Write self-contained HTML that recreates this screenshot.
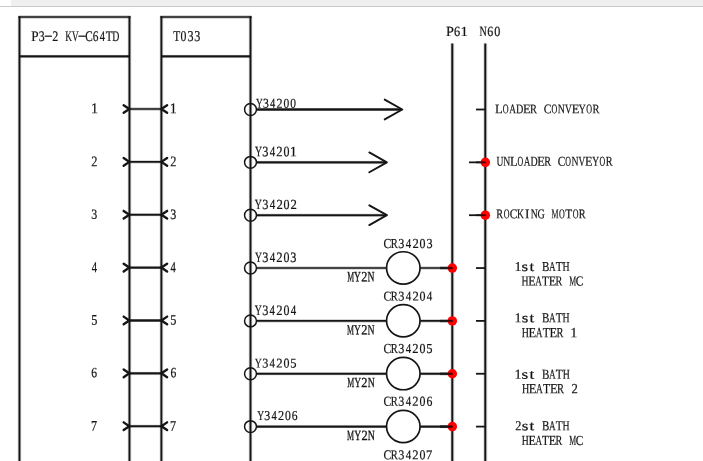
<!DOCTYPE html>
<html><head><meta charset="utf-8"><style>
html,body{margin:0;padding:0;background:#fff;width:703px;height:461px;overflow:hidden;position:relative}
#bar{position:absolute;left:11px;top:0;width:692px;height:6px;background:#efefef}
#bl{position:absolute;left:0;top:6px;width:703px;height:1px;background:#cacaca}
svg{display:block;position:absolute;left:0;top:0;will-change:transform;}
</style></head><body>
<div id="bar"></div><div id="bl"></div>
<svg width="703" height="461" viewBox="0 0 703 461">

<line x1="19.47" y1="16.25" x2="19.47" y2="470" stroke="#151515" stroke-width="4.0" stroke-opacity="0.1"/>
<line x1="129.47" y1="16.25" x2="129.47" y2="470" stroke="#151515" stroke-width="4.0" stroke-opacity="0.1"/>
<line x1="19.47" y1="16.25" x2="19.47" y2="470" stroke="#151515" stroke-width="2.0"/>
<line x1="129.47" y1="16.25" x2="129.47" y2="470" stroke="#151515" stroke-width="2.0"/>
<line x1="161.4" y1="16.25" x2="161.4" y2="470" stroke="#151515" stroke-width="4.0" stroke-opacity="0.1"/>
<line x1="250.5" y1="16.25" x2="250.5" y2="470" stroke="#151515" stroke-width="4.0" stroke-opacity="0.1"/>
<line x1="161.4" y1="16.25" x2="161.4" y2="470" stroke="#151515" stroke-width="2.0"/>
<line x1="250.5" y1="16.25" x2="250.5" y2="470" stroke="#151515" stroke-width="2.0"/>
<line x1="452.3" y1="43.6" x2="452.3" y2="470" stroke="#151515" stroke-width="4.0" stroke-opacity="0.15"/>
<line x1="485.3" y1="43.6" x2="485.3" y2="470" stroke="#151515" stroke-width="4.0" stroke-opacity="0.15"/>
<line x1="452.3" y1="43.6" x2="452.3" y2="470" stroke="#151515" stroke-width="2.0"/>
<line x1="485.3" y1="43.6" x2="485.3" y2="470" stroke="#151515" stroke-width="2.0"/>

<g>
<line x1="18.47" y1="17.00" x2="130.47" y2="17.00" stroke="#151515" stroke-width="3.6" stroke-opacity="0.220"/>
<line x1="18.47" y1="17.00" x2="130.47" y2="17.00" stroke="#151515" stroke-width="1.45"/>
<line x1="19.47" y1="56.40" x2="129.47" y2="56.40" stroke="#151515" stroke-width="3.6" stroke-opacity="0.044"/>
<line x1="19.47" y1="56.40" x2="129.47" y2="56.40" stroke="#151515" stroke-width="2.289999999999997"/>
<line x1="160.40" y1="17.00" x2="251.50" y2="17.00" stroke="#151515" stroke-width="3.6" stroke-opacity="0.220"/>
<line x1="160.40" y1="17.00" x2="251.50" y2="17.00" stroke="#151515" stroke-width="1.45"/>
<line x1="161.40" y1="56.40" x2="250.50" y2="56.40" stroke="#151515" stroke-width="3.6" stroke-opacity="0.044"/>
<line x1="161.40" y1="56.40" x2="250.50" y2="56.40" stroke="#151515" stroke-width="2.289999999999997"/>
<line x1="129.47" y1="109.00" x2="161.40" y2="109.00" stroke="#151515" stroke-width="3.6" stroke-opacity="0.220"/>
<line x1="129.47" y1="109.00" x2="161.40" y2="109.00" stroke="#151515" stroke-width="1.45"/>
<path d="M123.67 105.15 L129.27 109.00 L123.67 112.85" fill="none" stroke="#151515" stroke-width="2.4" stroke-linecap="round" stroke-linejoin="round"/>
<path d="M167.10 105.15 L161.40 109.00 L167.10 112.85" fill="none" stroke="#151515" stroke-width="2.4" stroke-linecap="round" stroke-linejoin="round"/>
<circle cx="250.5" cy="109.50" r="5.95" fill="none" stroke="#151515" stroke-width="1.5"/>
<line x1="129.47" y1="161.87" x2="161.40" y2="161.87" stroke="#151515" stroke-width="3.6" stroke-opacity="0.163"/>
<line x1="129.47" y1="161.87" x2="161.40" y2="161.87" stroke="#151515" stroke-width="1.7229999999999905"/>
<path d="M123.67 158.02 L129.27 161.87 L123.67 165.72" fill="none" stroke="#151515" stroke-width="2.4" stroke-linecap="round" stroke-linejoin="round"/>
<path d="M167.10 158.02 L161.40 161.87 L167.10 165.72" fill="none" stroke="#151515" stroke-width="2.4" stroke-linecap="round" stroke-linejoin="round"/>
<circle cx="250.5" cy="162.35" r="5.95" fill="none" stroke="#151515" stroke-width="1.5"/>
<line x1="129.47" y1="214.74" x2="161.40" y2="214.74" stroke="#151515" stroke-width="3.6" stroke-opacity="0.106"/>
<line x1="129.47" y1="214.74" x2="161.40" y2="214.74" stroke="#151515" stroke-width="1.995999999999981"/>
<path d="M123.67 210.89 L129.27 214.74 L123.67 218.59" fill="none" stroke="#151515" stroke-width="2.4" stroke-linecap="round" stroke-linejoin="round"/>
<path d="M167.10 210.89 L161.40 214.74 L167.10 218.59" fill="none" stroke="#151515" stroke-width="2.4" stroke-linecap="round" stroke-linejoin="round"/>
<circle cx="250.5" cy="215.20" r="5.95" fill="none" stroke="#151515" stroke-width="1.5"/>
<line x1="129.47" y1="267.61" x2="161.40" y2="267.61" stroke="#151515" stroke-width="3.6" stroke-opacity="0.048"/>
<line x1="129.47" y1="267.61" x2="161.40" y2="267.61" stroke="#151515" stroke-width="2.2689999999999713"/>
<path d="M123.67 263.76 L129.27 267.61 L123.67 271.46" fill="none" stroke="#151515" stroke-width="2.4" stroke-linecap="round" stroke-linejoin="round"/>
<path d="M167.10 263.76 L161.40 267.61 L167.10 271.46" fill="none" stroke="#151515" stroke-width="2.4" stroke-linecap="round" stroke-linejoin="round"/>
<circle cx="250.5" cy="268.05" r="5.95" fill="none" stroke="#151515" stroke-width="1.5"/>
<line x1="129.47" y1="320.48" x2="161.40" y2="320.48" stroke="#151515" stroke-width="2.4580000000000384"/>
<path d="M123.67 316.63 L129.27 320.48 L123.67 324.33" fill="none" stroke="#151515" stroke-width="2.4" stroke-linecap="round" stroke-linejoin="round"/>
<path d="M167.10 316.63 L161.40 320.48 L167.10 324.33" fill="none" stroke="#151515" stroke-width="2.4" stroke-linecap="round" stroke-linejoin="round"/>
<circle cx="250.5" cy="320.90" r="5.95" fill="none" stroke="#151515" stroke-width="1.5"/>
<line x1="129.47" y1="373.35" x2="161.40" y2="373.35" stroke="#151515" stroke-width="3.6" stroke-opacity="0.066"/>
<line x1="129.47" y1="373.35" x2="161.40" y2="373.35" stroke="#151515" stroke-width="2.1849999999999286"/>
<path d="M123.67 369.50 L129.27 373.35 L123.67 377.20" fill="none" stroke="#151515" stroke-width="2.4" stroke-linecap="round" stroke-linejoin="round"/>
<path d="M167.10 369.50 L161.40 373.35 L167.10 377.20" fill="none" stroke="#151515" stroke-width="2.4" stroke-linecap="round" stroke-linejoin="round"/>
<circle cx="250.5" cy="373.75" r="5.95" fill="none" stroke="#151515" stroke-width="1.5"/>
<line x1="129.47" y1="426.22" x2="161.40" y2="426.22" stroke="#151515" stroke-width="3.6" stroke-opacity="0.123"/>
<line x1="129.47" y1="426.22" x2="161.40" y2="426.22" stroke="#151515" stroke-width="1.911999999999938"/>
<path d="M123.67 422.37 L129.27 426.22 L123.67 430.07" fill="none" stroke="#151515" stroke-width="2.4" stroke-linecap="round" stroke-linejoin="round"/>
<path d="M167.10 422.37 L161.40 426.22 L167.10 430.07" fill="none" stroke="#151515" stroke-width="2.4" stroke-linecap="round" stroke-linejoin="round"/>
<circle cx="250.5" cy="426.60" r="5.95" fill="none" stroke="#151515" stroke-width="1.5"/>
<line x1="256.45" y1="109.50" x2="401.50" y2="109.50" stroke="#151515" stroke-width="2.5"/>
<path d="M384.70 99.60 L402.30 109.50 L384.70 119.40" fill="none" stroke="#151515" stroke-width="1.9" stroke-linecap="round" stroke-linejoin="round"/>
<line x1="476.00" y1="109.50" x2="485.30" y2="109.50" stroke="#151515" stroke-width="1.8"/>
<line x1="256.45" y1="162.35" x2="386.10" y2="162.35" stroke="#151515" stroke-width="3.6" stroke-opacity="0.066"/>
<line x1="256.45" y1="162.35" x2="386.10" y2="162.35" stroke="#151515" stroke-width="2.184999999999988"/>
<path d="M369.30 152.45 L386.90 162.35 L369.30 172.25" fill="none" stroke="#151515" stroke-width="1.9" stroke-linecap="round" stroke-linejoin="round"/>
<line x1="476.00" y1="162.35" x2="485.30" y2="162.35" stroke="#151515" stroke-width="1.8"/>
<line x1="256.45" y1="215.20" x2="386.10" y2="215.20" stroke="#151515" stroke-width="3.6" stroke-opacity="0.132"/>
<line x1="256.45" y1="215.20" x2="386.10" y2="215.20" stroke="#151515" stroke-width="1.8699999999999761"/>
<path d="M369.30 205.30 L386.90 215.20 L369.30 225.10" fill="none" stroke="#151515" stroke-width="1.9" stroke-linecap="round" stroke-linejoin="round"/>
<line x1="476.00" y1="215.20" x2="485.30" y2="215.20" stroke="#151515" stroke-width="1.8"/>
<circle cx="485.3" cy="162.35" r="4.75" fill="#f00"/>
<line x1="469.00" y1="162.35" x2="480.70" y2="162.35" stroke="#151515" stroke-width="1.8"/>
<line x1="480.70" y1="162.35" x2="485.70" y2="162.35" stroke="#3a0000" stroke-width="1.8"/>
<circle cx="485.3" cy="215.20" r="4.75" fill="#f00"/>
<line x1="469.00" y1="215.20" x2="480.70" y2="215.20" stroke="#151515" stroke-width="1.8"/>
<line x1="480.70" y1="215.20" x2="485.70" y2="215.20" stroke="#3a0000" stroke-width="1.8"/>
<line x1="256.45" y1="268.05" x2="386.55" y2="268.05" stroke="#151515" stroke-width="3.6" stroke-opacity="0.198"/>
<line x1="256.45" y1="268.05" x2="386.55" y2="268.05" stroke="#151515" stroke-width="1.555000000000024"/>
<ellipse cx="403.3" cy="267.90" rx="16.75" ry="16.15" fill="none" stroke="#151515" stroke-width="1.7"/>
<line x1="420.05" y1="268.05" x2="452.30" y2="268.05" stroke="#151515" stroke-width="3.6" stroke-opacity="0.198"/>
<line x1="420.05" y1="268.05" x2="452.30" y2="268.05" stroke="#151515" stroke-width="1.555000000000024"/>
<circle cx="452.3" cy="268.05" r="4.75" fill="#f00"/>
<line x1="440.00" y1="268.05" x2="447.70" y2="268.05" stroke="#151515" stroke-width="3.6" stroke-opacity="0.198"/>
<line x1="440.00" y1="268.05" x2="447.70" y2="268.05" stroke="#151515" stroke-width="1.555000000000024"/>
<line x1="447.70" y1="268.05" x2="452.70" y2="268.05" stroke="#3a0000" stroke-width="3.6" stroke-opacity="0.198"/>
<line x1="447.70" y1="268.05" x2="452.70" y2="268.05" stroke="#3a0000" stroke-width="1.555000000000024"/>
<line x1="476.00" y1="268.05" x2="485.30" y2="268.05" stroke="#151515" stroke-width="1.8"/>
<line x1="256.45" y1="320.90" x2="386.55" y2="320.90" stroke="#151515" stroke-width="3.6" stroke-opacity="0.176"/>
<line x1="256.45" y1="320.90" x2="386.55" y2="320.90" stroke="#151515" stroke-width="1.6600000000000477"/>
<ellipse cx="403.3" cy="320.75" rx="16.75" ry="16.15" fill="none" stroke="#151515" stroke-width="1.7"/>
<line x1="420.05" y1="320.90" x2="452.30" y2="320.90" stroke="#151515" stroke-width="3.6" stroke-opacity="0.176"/>
<line x1="420.05" y1="320.90" x2="452.30" y2="320.90" stroke="#151515" stroke-width="1.6600000000000477"/>
<circle cx="452.3" cy="320.90" r="4.75" fill="#f00"/>
<line x1="440.00" y1="320.90" x2="447.70" y2="320.90" stroke="#151515" stroke-width="3.6" stroke-opacity="0.176"/>
<line x1="440.00" y1="320.90" x2="447.70" y2="320.90" stroke="#151515" stroke-width="1.6600000000000477"/>
<line x1="447.70" y1="320.90" x2="452.70" y2="320.90" stroke="#3a0000" stroke-width="3.6" stroke-opacity="0.176"/>
<line x1="447.70" y1="320.90" x2="452.70" y2="320.90" stroke="#3a0000" stroke-width="1.6600000000000477"/>
<line x1="476.00" y1="320.90" x2="485.30" y2="320.90" stroke="#151515" stroke-width="1.8"/>
<line x1="256.45" y1="373.75" x2="386.55" y2="373.75" stroke="#151515" stroke-width="3.6" stroke-opacity="0.110"/>
<line x1="256.45" y1="373.75" x2="386.55" y2="373.75" stroke="#151515" stroke-width="1.975"/>
<ellipse cx="403.3" cy="373.60" rx="16.75" ry="16.15" fill="none" stroke="#151515" stroke-width="1.7"/>
<line x1="420.05" y1="373.75" x2="452.30" y2="373.75" stroke="#151515" stroke-width="3.6" stroke-opacity="0.110"/>
<line x1="420.05" y1="373.75" x2="452.30" y2="373.75" stroke="#151515" stroke-width="1.975"/>
<circle cx="452.3" cy="373.75" r="4.75" fill="#f00"/>
<line x1="440.00" y1="373.75" x2="447.70" y2="373.75" stroke="#151515" stroke-width="3.6" stroke-opacity="0.110"/>
<line x1="440.00" y1="373.75" x2="447.70" y2="373.75" stroke="#151515" stroke-width="1.975"/>
<line x1="447.70" y1="373.75" x2="452.70" y2="373.75" stroke="#3a0000" stroke-width="3.6" stroke-opacity="0.110"/>
<line x1="447.70" y1="373.75" x2="452.70" y2="373.75" stroke="#3a0000" stroke-width="1.975"/>
<line x1="476.00" y1="373.75" x2="485.30" y2="373.75" stroke="#151515" stroke-width="1.8"/>
<line x1="256.45" y1="426.60" x2="386.55" y2="426.60" stroke="#151515" stroke-width="3.6" stroke-opacity="0.044"/>
<line x1="256.45" y1="426.60" x2="386.55" y2="426.60" stroke="#151515" stroke-width="2.289999999999952"/>
<ellipse cx="403.3" cy="426.45" rx="16.75" ry="16.15" fill="none" stroke="#151515" stroke-width="1.7"/>
<line x1="420.05" y1="426.60" x2="452.30" y2="426.60" stroke="#151515" stroke-width="3.6" stroke-opacity="0.044"/>
<line x1="420.05" y1="426.60" x2="452.30" y2="426.60" stroke="#151515" stroke-width="2.289999999999952"/>
<circle cx="452.3" cy="426.60" r="4.75" fill="#f00"/>
<line x1="440.00" y1="426.60" x2="447.70" y2="426.60" stroke="#151515" stroke-width="3.6" stroke-opacity="0.044"/>
<line x1="440.00" y1="426.60" x2="447.70" y2="426.60" stroke="#151515" stroke-width="2.289999999999952"/>
<line x1="447.70" y1="426.60" x2="452.70" y2="426.60" stroke="#3a0000" stroke-width="3.6" stroke-opacity="0.044"/>
<line x1="447.70" y1="426.60" x2="452.70" y2="426.60" stroke="#3a0000" stroke-width="2.289999999999952"/>
<line x1="476.00" y1="426.60" x2="485.30" y2="426.60" stroke="#151515" stroke-width="1.8"/>
<line x1="256.45" y1="479.45" x2="386.55" y2="479.45" stroke="#151515" stroke-width="3.6" stroke-opacity="0.022"/>
<line x1="256.45" y1="479.45" x2="386.55" y2="479.45" stroke="#151515" stroke-width="2.394999999999976"/>
<ellipse cx="403.3" cy="479.30" rx="16.75" ry="16.15" fill="none" stroke="#151515" stroke-width="1.7"/>
<line x1="420.05" y1="479.45" x2="452.30" y2="479.45" stroke="#151515" stroke-width="3.6" stroke-opacity="0.022"/>
<line x1="420.05" y1="479.45" x2="452.30" y2="479.45" stroke="#151515" stroke-width="2.394999999999976"/>
<circle cx="452.3" cy="479.45" r="4.75" fill="#f00"/>
<line x1="440.00" y1="479.45" x2="447.70" y2="479.45" stroke="#151515" stroke-width="3.6" stroke-opacity="0.022"/>
<line x1="440.00" y1="479.45" x2="447.70" y2="479.45" stroke="#151515" stroke-width="2.394999999999976"/>
<line x1="447.70" y1="479.45" x2="452.70" y2="479.45" stroke="#3a0000" stroke-width="3.6" stroke-opacity="0.022"/>
<line x1="447.70" y1="479.45" x2="452.70" y2="479.45" stroke="#3a0000" stroke-width="2.394999999999976"/>
<line x1="476.00" y1="479.45" x2="485.30" y2="479.45" stroke="#151515" stroke-width="1.8"/>
<g font-family='"Liberation Serif", serif' fill="#151515" stroke="#151515" stroke-width="0.22">
<g ><text transform="translate(34.91 41.11) rotate(0.1) scale(0.900 1)" x="-3.98" font-size="14.61">P</text><text transform="translate(41.65 41.11) rotate(0.1) scale(0.805 1)" x="-3.72" font-size="14.61">3</text><text transform="translate(48.39 41.11) rotate(0.1) scale(1.777 1)" x="-2.44" y="-1.31" font-size="14.61">-</text><text transform="translate(55.14 41.11) rotate(0.1) scale(0.829 1)" x="-3.57" font-size="14.61">2</text><text transform="translate(68.63 41.11) rotate(0.1) scale(0.642 1)" x="-5.41" font-size="14.61">K</text><text transform="translate(75.37 41.11) rotate(0.1) scale(0.627 1)" x="-5.27" font-size="14.61">V</text><text transform="translate(82.12 41.11) rotate(0.1) scale(1.777 1)" x="-2.44" y="-1.31" font-size="14.61">-</text><text transform="translate(88.86 41.11) rotate(0.1) scale(0.768 1)" x="-4.77" font-size="14.61">C</text><text transform="translate(95.61 41.11) rotate(0.1) scale(0.778 1)" x="-3.75" font-size="14.61">6</text><text transform="translate(102.35 41.11) rotate(0.1) scale(0.715 1)" x="-3.68" font-size="14.61">4</text><text transform="translate(109.10 41.11) rotate(0.1) scale(0.761 1)" x="-4.47" font-size="14.61">T</text><text transform="translate(115.84 41.11) rotate(0.1) scale(0.671 1)" x="-5.19" font-size="14.61">D</text></g>
<g ><text transform="translate(176.63 40.95) rotate(0.1) scale(0.758 1)" x="-4.61" font-size="15.07">T</text><text transform="translate(183.55 40.95) rotate(0.1) scale(0.781 1)" x="-3.77" font-size="15.07">0</text><text transform="translate(190.48 40.95) rotate(0.1) scale(0.801 1)" x="-3.83" font-size="15.07">3</text><text transform="translate(197.40 40.95) rotate(0.1) scale(0.801 1)" x="-3.83" font-size="15.07">3</text></g>
<g ><text transform="translate(449.95 36.13) rotate(0.1) scale(1.012 1)" x="-3.82" font-size="14.03">P</text><text transform="translate(457.24 36.13) rotate(0.1) scale(0.875 1)" x="-3.60" font-size="14.03">6</text><text transform="translate(464.52 36.13) rotate(0.1) scale(1.062 1)" x="-3.70" font-size="14.03">1</text></g>
<g ><text transform="translate(483.12 35.94) rotate(0.1) scale(0.720 1)" x="-5.11" font-size="14.04">N</text><text transform="translate(490.25 35.94) rotate(0.1) scale(0.857 1)" x="-3.60" font-size="14.04">6</text><text transform="translate(497.39 35.94) rotate(0.1) scale(0.864 1)" x="-3.51" font-size="14.04">0</text></g>
<g ><text transform="translate(94.58 113.19) rotate(0.1) scale(0.944 1)" x="-3.93" font-size="14.89">1</text></g>
<g ><text transform="translate(173.42 113.30) rotate(0.1) scale(0.942 1)" x="-3.94" font-size="14.92">1</text></g>
<g ><text transform="translate(94.32 166.28) rotate(0.1) scale(0.834 1)" x="-3.62" font-size="14.81">2</text></g>
<g ><text transform="translate(173.18 166.24) rotate(0.1) scale(0.837 1)" x="-3.60" font-size="14.75">2</text></g>
<g ><text transform="translate(94.37 218.75) rotate(0.1) scale(0.855 1)" x="-3.56" font-size="14.01">3</text></g>
<g ><text transform="translate(173.24 218.98) rotate(0.1) scale(0.839 1)" x="-3.63" font-size="14.29">3</text></g>
<g ><text transform="translate(94.38 272.15) rotate(0.1) scale(0.706 1)" x="-3.80" font-size="15.08">4</text></g>
<g ><text transform="translate(173.26 272.21) rotate(0.1) scale(0.694 1)" x="-3.87" font-size="15.35">4</text></g>
<g ><text transform="translate(94.36 324.66) rotate(0.1) scale(0.833 1)" x="-3.83" font-size="14.75">5</text></g>
<g ><text transform="translate(173.32 324.60) rotate(0.1) scale(0.858 1)" x="-3.72" font-size="14.32">5</text></g>
<g ><text transform="translate(94.33 377.29) rotate(0.1) scale(0.819 1)" x="-3.63" font-size="14.14">6</text></g>
<g ><text transform="translate(173.37 377.37) rotate(0.1) scale(0.813 1)" x="-3.66" font-size="14.25">6</text></g>
<g ><text transform="translate(94.34 430.80) rotate(0.1) scale(0.821 1)" x="-4.00" font-size="14.88">7</text></g>
<g ><text transform="translate(173.32 430.90) rotate(0.1) scale(0.812 1)" x="-4.04" font-size="15.05">7</text></g>
<g ><text transform="translate(259.24 107.86) rotate(0.1) scale(0.690 1)" x="-4.80" font-size="13.55">Y</text><text transform="translate(265.99 107.86) rotate(0.1) scale(0.868 1)" x="-3.45" font-size="13.55">3</text><text transform="translate(272.74 107.86) rotate(0.1) scale(0.771 1)" x="-3.41" font-size="13.55">4</text><text transform="translate(279.49 107.86) rotate(0.1) scale(0.894 1)" x="-3.31" font-size="13.55">2</text><text transform="translate(286.23 107.86) rotate(0.1) scale(0.846 1)" x="-3.39" font-size="13.55">0</text><text transform="translate(292.98 107.86) rotate(0.1) scale(0.846 1)" x="-3.39" font-size="13.55">0</text></g>
<g ><text transform="translate(258.33 156.19) rotate(0.1) scale(0.675 1)" x="-5.10" font-size="14.41">Y</text><text transform="translate(265.35 156.19) rotate(0.1) scale(0.850 1)" x="-3.67" font-size="14.41">3</text><text transform="translate(272.38 156.19) rotate(0.1) scale(0.755 1)" x="-3.63" font-size="14.41">4</text><text transform="translate(279.40 156.19) rotate(0.1) scale(0.875 1)" x="-3.52" font-size="14.41">2</text><text transform="translate(286.42 156.19) rotate(0.1) scale(0.828 1)" x="-3.60" font-size="14.41">0</text><text transform="translate(293.45 156.19) rotate(0.1) scale(0.997 1)" x="-3.80" font-size="14.41">1</text></g>
<g ><text transform="translate(258.29 209.02) rotate(0.1) scale(0.703 1)" x="-4.94" font-size="13.96">Y</text><text transform="translate(265.36 209.02) rotate(0.1) scale(0.884 1)" x="-3.55" font-size="13.96">3</text><text transform="translate(272.44 209.02) rotate(0.1) scale(0.785 1)" x="-3.52" font-size="13.96">4</text><text transform="translate(279.52 209.02) rotate(0.1) scale(0.911 1)" x="-3.41" font-size="13.96">2</text><text transform="translate(286.59 209.02) rotate(0.1) scale(0.861 1)" x="-3.49" font-size="13.96">0</text><text transform="translate(293.67 209.02) rotate(0.1) scale(0.911 1)" x="-3.41" font-size="13.96">2</text></g>
<g ><text transform="translate(258.35 262.12) rotate(0.1) scale(0.681 1)" x="-5.06" font-size="14.28">Y</text><text transform="translate(265.37 262.12) rotate(0.1) scale(0.856 1)" x="-3.63" font-size="14.28">3</text><text transform="translate(272.38 262.12) rotate(0.1) scale(0.761 1)" x="-3.60" font-size="14.28">4</text><text transform="translate(279.40 262.12) rotate(0.1) scale(0.882 1)" x="-3.49" font-size="14.28">2</text><text transform="translate(286.42 262.12) rotate(0.1) scale(0.835 1)" x="-3.57" font-size="14.28">0</text><text transform="translate(293.44 262.12) rotate(0.1) scale(0.856 1)" x="-3.63" font-size="14.28">3</text></g>
<g ><text transform="translate(258.30 315.01) rotate(0.1) scale(0.677 1)" x="-5.08" font-size="14.36">Y</text><text transform="translate(265.32 315.01) rotate(0.1) scale(0.852 1)" x="-3.65" font-size="14.36">3</text><text transform="translate(272.34 315.01) rotate(0.1) scale(0.757 1)" x="-3.62" font-size="14.36">4</text><text transform="translate(279.36 315.01) rotate(0.1) scale(0.878 1)" x="-3.51" font-size="14.36">2</text><text transform="translate(286.38 315.01) rotate(0.1) scale(0.830 1)" x="-3.59" font-size="14.36">0</text><text transform="translate(293.40 315.01) rotate(0.1) scale(0.757 1)" x="-3.62" font-size="14.36">4</text></g>
<g ><text transform="translate(258.27 367.41) rotate(0.1) scale(0.728 1)" x="-4.73" font-size="13.37">Y</text><text transform="translate(265.30 367.41) rotate(0.1) scale(0.916 1)" x="-3.40" font-size="13.37">3</text><text transform="translate(272.32 367.41) rotate(0.1) scale(0.814 1)" x="-3.37" font-size="13.37">4</text><text transform="translate(279.35 367.41) rotate(0.1) scale(0.944 1)" x="-3.27" font-size="13.37">2</text><text transform="translate(286.37 367.41) rotate(0.1) scale(0.893 1)" x="-3.34" font-size="13.37">0</text><text transform="translate(293.40 367.41) rotate(0.1) scale(0.939 1)" x="-3.47" font-size="13.37">5</text></g>
<g ><text transform="translate(260.49 419.89) rotate(0.1) scale(0.699 1)" x="-4.81" font-size="13.58">Y</text><text transform="translate(267.34 419.89) rotate(0.1) scale(0.879 1)" x="-3.45" font-size="13.58">3</text><text transform="translate(274.19 419.89) rotate(0.1) scale(0.781 1)" x="-3.42" font-size="13.58">4</text><text transform="translate(281.04 419.89) rotate(0.1) scale(0.906 1)" x="-3.32" font-size="13.58">2</text><text transform="translate(287.89 419.89) rotate(0.1) scale(0.857 1)" x="-3.39" font-size="13.58">0</text><text transform="translate(294.74 419.89) rotate(0.1) scale(0.850 1)" x="-3.48" font-size="13.58">6</text></g>
<g ><text transform="translate(498.73 113.27) rotate(0.1) scale(0.967 1)" x="-3.80" font-size="13.10">L</text><text transform="translate(505.69 113.27) rotate(0.1) scale(0.614 1)" x="-4.73" font-size="13.10">O</text><text transform="translate(512.65 113.27) rotate(0.1) scale(0.716 1)" x="-4.75" font-size="13.10">A</text><text transform="translate(519.61 113.27) rotate(0.1) scale(0.772 1)" x="-4.66" font-size="13.10">D</text><text transform="translate(526.57 113.27) rotate(0.1) scale(0.948 1)" x="-3.86" font-size="13.10">E</text><text transform="translate(533.53 113.27) rotate(0.1) scale(0.792 1)" x="-4.55" font-size="13.10">R</text><text transform="translate(547.45 113.27) rotate(0.1) scale(0.884 1)" x="-4.28" font-size="13.10">C</text><text transform="translate(554.41 113.27) rotate(0.1) scale(0.614 1)" x="-4.73" font-size="13.10">O</text><text transform="translate(561.37 113.27) rotate(0.1) scale(0.753 1)" x="-4.77" font-size="13.10">N</text><text transform="translate(568.33 113.27) rotate(0.1) scale(0.721 1)" x="-4.73" font-size="13.10">V</text><text transform="translate(575.29 113.27) rotate(0.1) scale(0.948 1)" x="-3.86" font-size="13.10">E</text><text transform="translate(582.25 113.27) rotate(0.1) scale(0.736 1)" x="-4.64" font-size="13.10">Y</text><text transform="translate(589.21 113.27) rotate(0.1) scale(0.614 1)" x="-4.73" font-size="13.10">O</text><text transform="translate(596.17 113.27) rotate(0.1) scale(0.792 1)" x="-4.55" font-size="13.10">R</text></g>
<g ><text transform="translate(499.83 165.84) rotate(0.1) scale(0.706 1)" x="-4.88" font-size="13.51">U</text><text transform="translate(506.67 165.84) rotate(0.1) scale(0.717 1)" x="-4.92" font-size="13.51">N</text><text transform="translate(513.50 165.84) rotate(0.1) scale(0.920 1)" x="-3.92" font-size="13.51">L</text><text transform="translate(520.33 165.84) rotate(0.1) scale(0.585 1)" x="-4.88" font-size="13.51">O</text><text transform="translate(527.17 165.84) rotate(0.1) scale(0.681 1)" x="-4.90" font-size="13.51">A</text><text transform="translate(534.00 165.84) rotate(0.1) scale(0.735 1)" x="-4.80" font-size="13.51">D</text><text transform="translate(540.83 165.84) rotate(0.1) scale(0.903 1)" x="-3.99" font-size="13.51">E</text><text transform="translate(547.67 165.84) rotate(0.1) scale(0.755 1)" x="-4.69" font-size="13.51">R</text><text transform="translate(561.33 165.84) rotate(0.1) scale(0.842 1)" x="-4.41" font-size="13.51">C</text><text transform="translate(568.17 165.84) rotate(0.1) scale(0.585 1)" x="-4.88" font-size="13.51">O</text><text transform="translate(575.00 165.84) rotate(0.1) scale(0.717 1)" x="-4.92" font-size="13.51">N</text><text transform="translate(581.84 165.84) rotate(0.1) scale(0.687 1)" x="-4.88" font-size="13.51">V</text><text transform="translate(588.67 165.84) rotate(0.1) scale(0.903 1)" x="-3.99" font-size="13.51">E</text><text transform="translate(595.50 165.84) rotate(0.1) scale(0.701 1)" x="-4.78" font-size="13.51">Y</text><text transform="translate(602.34 165.84) rotate(0.1) scale(0.585 1)" x="-4.88" font-size="13.51">O</text><text transform="translate(609.17 165.84) rotate(0.1) scale(0.755 1)" x="-4.69" font-size="13.51">R</text></g>
<g ><text transform="translate(499.78 218.37) rotate(0.1) scale(0.774 1)" x="-4.61" font-size="13.28">R</text><text transform="translate(506.67 218.37) rotate(0.1) scale(0.600 1)" x="-4.79" font-size="13.28">O</text><text transform="translate(513.55 218.37) rotate(0.1) scale(0.863 1)" x="-4.33" font-size="13.28">C</text><text transform="translate(520.44 218.37) rotate(0.1) scale(0.721 1)" x="-4.92" font-size="13.28">K</text><text transform="translate(527.33 218.37) rotate(0.1) scale(1.000 1)" x="-2.22" font-size="13.28">I</text><text transform="translate(534.22 218.37) rotate(0.1) scale(0.735 1)" x="-4.83" font-size="13.28">N</text><text transform="translate(541.11 218.37) rotate(0.1) scale(0.758 1)" x="-4.86" font-size="13.28">G</text><text transform="translate(554.88 218.37) rotate(0.1) scale(0.593 1)" x="-5.90" font-size="13.28">M</text><text transform="translate(561.77 218.37) rotate(0.1) scale(0.600 1)" x="-4.79" font-size="13.28">O</text><text transform="translate(568.66 218.37) rotate(0.1) scale(0.855 1)" x="-4.06" font-size="13.28">T</text><text transform="translate(575.54 218.37) rotate(0.1) scale(0.600 1)" x="-4.79" font-size="13.28">O</text><text transform="translate(582.43 218.37) rotate(0.1) scale(0.774 1)" x="-4.61" font-size="13.28">R</text></g>
<g ><text transform="translate(518.07 270.99) rotate(0.1) scale(1.030 1)" x="-3.59" font-size="13.61">1</text><text transform="translate(524.93 270.99) rotate(0.1) scale(1.250 1)" x="-2.68" font-size="13.61">s</text><text transform="translate(531.79 270.99) rotate(0.1) scale(1.250 1)" x="-1.92" font-size="13.61">t</text><text transform="translate(545.50 270.99) rotate(0.1) scale(0.812 1)" x="-4.40" font-size="13.61">B</text><text transform="translate(552.35 270.99) rotate(0.1) scale(0.679 1)" x="-4.93" font-size="13.61">A</text><text transform="translate(559.21 270.99) rotate(0.1) scale(0.830 1)" x="-4.17" font-size="13.61">T</text><text transform="translate(566.07 270.99) rotate(0.1) scale(0.721 1)" x="-4.91" font-size="13.61">H</text></g>
<g ><text transform="translate(525.09 285.63) rotate(0.1) scale(0.706 1)" x="-4.97" font-size="13.78">H</text><text transform="translate(531.88 285.63) rotate(0.1) scale(0.881 1)" x="-4.06" font-size="13.78">E</text><text transform="translate(538.68 285.63) rotate(0.1) scale(0.665 1)" x="-4.99" font-size="13.78">A</text><text transform="translate(545.48 285.63) rotate(0.1) scale(0.814 1)" x="-4.22" font-size="13.78">T</text><text transform="translate(552.28 285.63) rotate(0.1) scale(0.881 1)" x="-4.06" font-size="13.78">E</text><text transform="translate(559.07 285.63) rotate(0.1) scale(0.736 1)" x="-4.78" font-size="13.78">R</text><text transform="translate(572.67 285.63) rotate(0.1) scale(0.564 1)" x="-6.12" font-size="13.78">M</text><text transform="translate(579.47 285.63) rotate(0.1) scale(0.821 1)" x="-4.50" font-size="13.78">C</text></g>
<g ><text transform="translate(518.18 322.24) rotate(0.1) scale(1.026 1)" x="-3.59" font-size="13.62">1</text><text transform="translate(525.02 322.24) rotate(0.1) scale(1.250 1)" x="-2.68" font-size="13.62">s</text><text transform="translate(531.85 322.24) rotate(0.1) scale(1.250 1)" x="-1.92" font-size="13.62">t</text><text transform="translate(545.52 322.24) rotate(0.1) scale(0.809 1)" x="-4.41" font-size="13.62">B</text><text transform="translate(552.36 322.24) rotate(0.1) scale(0.676 1)" x="-4.93" font-size="13.62">A</text><text transform="translate(559.19 322.24) rotate(0.1) scale(0.828 1)" x="-4.17" font-size="13.62">T</text><text transform="translate(566.03 322.24) rotate(0.1) scale(0.718 1)" x="-4.91" font-size="13.62">H</text></g>
<g ><text transform="translate(525.27 337.26) rotate(0.1) scale(0.706 1)" x="-5.10" font-size="14.12">H</text><text transform="translate(532.23 337.26) rotate(0.1) scale(0.881 1)" x="-4.16" font-size="14.12">E</text><text transform="translate(539.20 337.26) rotate(0.1) scale(0.665 1)" x="-5.12" font-size="14.12">A</text><text transform="translate(546.17 337.26) rotate(0.1) scale(0.813 1)" x="-4.32" font-size="14.12">T</text><text transform="translate(553.13 337.26) rotate(0.1) scale(0.881 1)" x="-4.16" font-size="14.12">E</text><text transform="translate(560.10 337.26) rotate(0.1) scale(0.736 1)" x="-4.90" font-size="14.12">R</text><text transform="translate(574.03 337.26) rotate(0.1) scale(1.009 1)" x="-3.73" font-size="14.12">1</text></g>
<g ><text transform="translate(518.09 378.87) rotate(0.1) scale(1.021 1)" x="-3.63" font-size="13.77">1</text><text transform="translate(524.96 378.87) rotate(0.1) scale(1.250 1)" x="-2.71" font-size="13.77">s</text><text transform="translate(531.83 378.87) rotate(0.1) scale(1.250 1)" x="-1.94" font-size="13.77">t</text><text transform="translate(545.58 378.87) rotate(0.1) scale(0.804 1)" x="-4.46" font-size="13.77">B</text><text transform="translate(552.45 378.87) rotate(0.1) scale(0.672 1)" x="-4.99" font-size="13.77">A</text><text transform="translate(559.33 378.87) rotate(0.1) scale(0.823 1)" x="-4.22" font-size="13.77">T</text><text transform="translate(566.20 378.87) rotate(0.1) scale(0.714 1)" x="-4.97" font-size="13.77">H</text></g>
<g ><text transform="translate(525.50 393.34) rotate(0.1) scale(0.716 1)" x="-5.06" font-size="14.03">H</text><text transform="translate(532.52 393.34) rotate(0.1) scale(0.893 1)" x="-4.14" font-size="14.03">E</text><text transform="translate(539.54 393.34) rotate(0.1) scale(0.674 1)" x="-5.08" font-size="14.03">A</text><text transform="translate(546.56 393.34) rotate(0.1) scale(0.825 1)" x="-4.30" font-size="14.03">T</text><text transform="translate(553.58 393.34) rotate(0.1) scale(0.893 1)" x="-4.14" font-size="14.03">E</text><text transform="translate(560.60 393.34) rotate(0.1) scale(0.747 1)" x="-4.87" font-size="14.03">R</text><text transform="translate(574.64 393.34) rotate(0.1) scale(0.899 1)" x="-3.43" font-size="14.03">2</text></g>
<g ><text transform="translate(518.30 430.16) rotate(0.1) scale(0.893 1)" x="-3.36" font-size="13.74">2</text><text transform="translate(525.13 430.16) rotate(0.1) scale(1.250 1)" x="-2.71" font-size="13.74">s</text><text transform="translate(531.96 430.16) rotate(0.1) scale(1.250 1)" x="-1.94" font-size="13.74">t</text><text transform="translate(545.62 430.16) rotate(0.1) scale(0.801 1)" x="-4.44" font-size="13.74">B</text><text transform="translate(552.45 430.16) rotate(0.1) scale(0.670 1)" x="-4.98" font-size="13.74">A</text><text transform="translate(559.28 430.16) rotate(0.1) scale(0.820 1)" x="-4.21" font-size="13.74">T</text><text transform="translate(566.11 430.16) rotate(0.1) scale(0.711 1)" x="-4.96" font-size="13.74">H</text></g>
<g ><text transform="translate(525.16 444.93) rotate(0.1) scale(0.704 1)" x="-4.98" font-size="13.80">H</text><text transform="translate(531.95 444.93) rotate(0.1) scale(0.878 1)" x="-4.07" font-size="13.80">E</text><text transform="translate(538.74 444.93) rotate(0.1) scale(0.663 1)" x="-5.00" font-size="13.80">A</text><text transform="translate(545.53 444.93) rotate(0.1) scale(0.811 1)" x="-4.22" font-size="13.80">T</text><text transform="translate(552.32 444.93) rotate(0.1) scale(0.878 1)" x="-4.07" font-size="13.80">E</text><text transform="translate(559.11 444.93) rotate(0.1) scale(0.734 1)" x="-4.79" font-size="13.80">R</text><text transform="translate(572.69 444.93) rotate(0.1) scale(0.563 1)" x="-6.13" font-size="13.80">M</text><text transform="translate(579.48 444.93) rotate(0.1) scale(0.819 1)" x="-4.50" font-size="13.80">C</text></g>
<g ><text transform="translate(387.41 247.91) rotate(0.1) scale(0.850 1)" x="-4.48" font-size="13.72">C</text><text transform="translate(394.42 247.91) rotate(0.1) scale(0.762 1)" x="-4.76" font-size="13.72">R</text><text transform="translate(401.43 247.91) rotate(0.1) scale(0.890 1)" x="-3.49" font-size="13.72">3</text><text transform="translate(408.45 247.91) rotate(0.1) scale(0.791 1)" x="-3.46" font-size="13.72">4</text><text transform="translate(415.46 247.91) rotate(0.1) scale(0.918 1)" x="-3.35" font-size="13.72">2</text><text transform="translate(422.47 247.91) rotate(0.1) scale(0.868 1)" x="-3.43" font-size="13.72">0</text><text transform="translate(429.48 247.91) rotate(0.1) scale(0.890 1)" x="-3.49" font-size="13.72">3</text></g>
<g ><text transform="translate(387.31 300.40) rotate(0.1) scale(0.878 1)" x="-4.36" font-size="13.36">C</text><text transform="translate(394.36 300.40) rotate(0.1) scale(0.788 1)" x="-4.64" font-size="13.36">R</text><text transform="translate(401.42 300.40) rotate(0.1) scale(0.920 1)" x="-3.40" font-size="13.36">3</text><text transform="translate(408.47 300.40) rotate(0.1) scale(0.818 1)" x="-3.37" font-size="13.36">4</text><text transform="translate(415.52 300.40) rotate(0.1) scale(0.948 1)" x="-3.27" font-size="13.36">2</text><text transform="translate(422.58 300.40) rotate(0.1) scale(0.897 1)" x="-3.34" font-size="13.36">0</text><text transform="translate(429.63 300.40) rotate(0.1) scale(0.818 1)" x="-3.37" font-size="13.36">4</text></g>
<g ><text transform="translate(387.39 352.90) rotate(0.1) scale(0.852 1)" x="-4.47" font-size="13.68">C</text><text transform="translate(394.39 352.90) rotate(0.1) scale(0.764 1)" x="-4.75" font-size="13.68">R</text><text transform="translate(401.40 352.90) rotate(0.1) scale(0.892 1)" x="-3.48" font-size="13.68">3</text><text transform="translate(408.40 352.90) rotate(0.1) scale(0.793 1)" x="-3.45" font-size="13.68">4</text><text transform="translate(415.41 352.90) rotate(0.1) scale(0.919 1)" x="-3.34" font-size="13.68">2</text><text transform="translate(422.41 352.90) rotate(0.1) scale(0.870 1)" x="-3.42" font-size="13.68">0</text><text transform="translate(429.42 352.90) rotate(0.1) scale(0.915 1)" x="-3.55" font-size="13.68">5</text></g>
<g ><text transform="translate(387.41 405.85) rotate(0.1) scale(0.847 1)" x="-4.49" font-size="13.76">C</text><text transform="translate(394.41 405.85) rotate(0.1) scale(0.759 1)" x="-4.78" font-size="13.76">R</text><text transform="translate(401.41 405.85) rotate(0.1) scale(0.887 1)" x="-3.50" font-size="13.76">3</text><text transform="translate(408.41 405.85) rotate(0.1) scale(0.788 1)" x="-3.47" font-size="13.76">4</text><text transform="translate(415.41 405.85) rotate(0.1) scale(0.914 1)" x="-3.36" font-size="13.76">2</text><text transform="translate(422.42 405.85) rotate(0.1) scale(0.864 1)" x="-3.44" font-size="13.76">0</text><text transform="translate(429.42 405.85) rotate(0.1) scale(0.857 1)" x="-3.53" font-size="13.76">6</text></g>
<g ><text transform="translate(387.29 459.14) rotate(0.1) scale(0.870 1)" x="-4.38" font-size="13.43">C</text><text transform="translate(394.32 459.14) rotate(0.1) scale(0.780 1)" x="-4.66" font-size="13.43">R</text><text transform="translate(401.34 459.14) rotate(0.1) scale(0.911 1)" x="-3.42" font-size="13.43">3</text><text transform="translate(408.36 459.14) rotate(0.1) scale(0.810 1)" x="-3.38" font-size="13.43">4</text><text transform="translate(415.38 459.14) rotate(0.1) scale(0.939 1)" x="-3.28" font-size="13.43">2</text><text transform="translate(422.41 459.14) rotate(0.1) scale(0.888 1)" x="-3.36" font-size="13.43">0</text><text transform="translate(429.43 459.14) rotate(0.1) scale(0.929 1)" x="-3.61" font-size="13.43">7</text></g>
<g stroke-width="0.32"><text transform="translate(350.62 281.26) rotate(0.1) scale(0.551 1)" x="-6.27" font-size="14.10">M</text><text transform="translate(357.42 281.26) rotate(0.1) scale(0.668 1)" x="-4.99" font-size="14.10">Y</text><text transform="translate(364.22 281.26) rotate(0.1) scale(0.866 1)" x="-3.45" font-size="14.10">2</text><text transform="translate(371.01 281.26) rotate(0.1) scale(0.683 1)" x="-5.13" font-size="14.10">N</text></g>
<g stroke-width="0.32"><text transform="translate(350.54 334.26) rotate(0.1) scale(0.566 1)" x="-6.16" font-size="13.87">M</text><text transform="translate(357.41 334.26) rotate(0.1) scale(0.686 1)" x="-4.91" font-size="13.87">Y</text><text transform="translate(364.28 334.26) rotate(0.1) scale(0.890 1)" x="-3.39" font-size="13.87">2</text><text transform="translate(371.15 334.26) rotate(0.1) scale(0.702 1)" x="-5.05" font-size="13.87">N</text></g>
<g stroke-width="0.32"><text transform="translate(350.62 387.01) rotate(0.1) scale(0.568 1)" x="-6.16" font-size="13.87">M</text><text transform="translate(357.50 387.01) rotate(0.1) scale(0.688 1)" x="-4.91" font-size="13.87">Y</text><text transform="translate(364.39 387.01) rotate(0.1) scale(0.892 1)" x="-3.39" font-size="13.87">2</text><text transform="translate(371.28 387.01) rotate(0.1) scale(0.704 1)" x="-5.05" font-size="13.87">N</text></g>
<g stroke-width="0.32"><text transform="translate(350.63 440.03) rotate(0.1) scale(0.564 1)" x="-6.24" font-size="14.05">M</text><text transform="translate(357.56 440.03) rotate(0.1) scale(0.684 1)" x="-4.97" font-size="14.05">Y</text><text transform="translate(364.50 440.03) rotate(0.1) scale(0.886 1)" x="-3.43" font-size="14.05">2</text><text transform="translate(371.43 440.03) rotate(0.1) scale(0.699 1)" x="-5.11" font-size="14.05">N</text></g>
</g>
</g>
</svg>
</body></html>
